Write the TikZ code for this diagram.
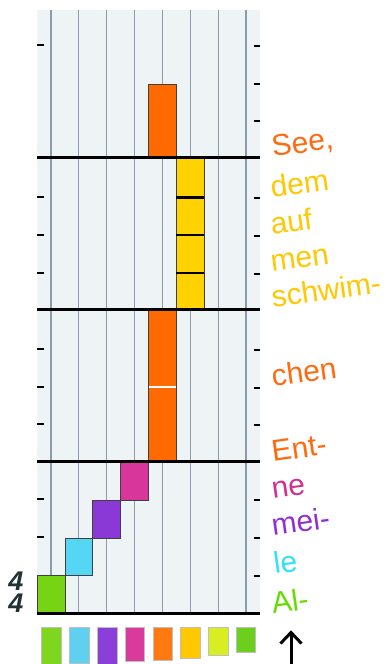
\documentclass[tikz,border=0pt]{standalone}
\usepackage{fontspec}
\setmainfont{Liberation Sans}
\definecolor{panel}{HTML}{EEF3F5}
\definecolor{gridc}{HTML}{8D9CA8}
\definecolor{cgreen}{HTML}{77D414}
\definecolor{ccyan}{HTML}{55D6F5}
\definecolor{cpurple}{HTML}{8A38D6}
\definecolor{cmagenta}{HTML}{D8369A}
\definecolor{corange}{HTML}{FF6A00}
\definecolor{cyellow}{HTML}{FFD200}
\definecolor{torange}{HTML}{FF6A10}
\definecolor{tyellow}{HTML}{FFC800}
\definecolor{tmagenta}{HTML}{D03090}
\definecolor{tpurple}{HTML}{9030D0}
\definecolor{tcyan}{HTML}{30E0FF}
\definecolor{tgreen}{HTML}{66DD00}
\definecolor{sigc}{HTML}{223333}
\definecolor{sw1}{HTML}{7FD61E}
\definecolor{sw2}{HTML}{5FD0F0}
\definecolor{sw3}{HTML}{8A3FD8}
\definecolor{sw4}{HTML}{D93B9C}
\definecolor{sw5}{HTML}{FF7A10}
\definecolor{sw6}{HTML}{FFC800}
\definecolor{sw7}{HTML}{D8EE22}
\definecolor{sw8}{HTML}{6CCF1E}
\begin{document}
\begin{tikzpicture}[x=1pt,y=-1pt,
  lyr/.style={anchor=base west, rotate=8, inner sep=0pt, font=\fontsize{30}{30}\selectfont},
  notebox/.style={draw=black!75, line width=0.6pt},
  tickmark/.style={line width=2pt},
  barline/.style={line width=3pt},
  gridline/.style={draw=gridc, line width=1.3pt},
  swatch/.style={draw=black!25, line width=0.4pt},
  sig/.style={inner sep=0pt, text=sigc, font=\bfseries\itshape\fontsize{27}{27}\selectfont}]
\useasboundingbox (0,0) rectangle (388,664);
% panel
\fill[panel] (37,10) rectangle (260,613.5);
\foreach \i in {0,...,7} \draw[gridline] (50.94+27.875*\i,10) -- (50.94+27.875*\i,613.5);
% ticks
\foreach \y in {45,197,235,273,349,387,424,499,537} \draw[tickmark] (37,\y) -- (44,\y);
\foreach \y in {46,84,121,198,236,274,350,388,425,500,538,576} \draw[tickmark] (253.5,\y) -- (260,\y);
% notes
\filldraw[notebox, fill=corange] (148.5,84) rectangle (176.4,157.5);
\filldraw[notebox, fill=cyellow] (176.4,157.5) rectangle (204.25,309.5);
\foreach \y in {197.5,235,273} \draw[line width=2.5pt] (176.4,\y) -- (204.25,\y);
\filldraw[notebox, fill=corange] (148.5,309.5) rectangle (176.4,461.5);
\draw[white, line width=2pt] (148.8,387) -- (176.1,387);
\filldraw[notebox, fill=cmagenta] (120.6,461.5) rectangle (148.5,500);
\filldraw[notebox, fill=cpurple] (92.75,500) rectangle (120.6,538);
\filldraw[notebox, fill=ccyan] (64.9,538) rectangle (92.75,575.7);
\filldraw[notebox, fill=cgreen] (37,575.7) rectangle (64.9,613.5);
% measure lines
\foreach \y in {157.5,309.5,461.5,613.5} \draw[barline] (37,\y) -- (260,\y);
% time signature
\node[sig] (sigTop) at (16,581.5) {4};
\node[sig] (sigBot) at (16,603.5) {4};
% lyrics
\node[lyr, text=torange] (tSee) at (273,157) {See,};
\node[lyr, text=tyellow] (tDem) at (272,198) {dem};
\node[lyr, text=tyellow] (tAuf) at (272,235) {auf};
\node[lyr, text=tyellow] (tMen) at (272,272) {men};
\node[lyr, text=tyellow] (tSchwim) at (273,308) {schwim-};
\node[lyr, text=torange] (tChen) at (273,387) {chen};
\node[lyr, text=torange] (tEnt) at (273,462) {Ent-};
\node[lyr, text=tmagenta] (tNe) at (273,499) {ne};
\node[lyr, text=tpurple] (tMei) at (273,536) {mei-};
\node[lyr, text=tcyan] (tLe) at (275,574) {le};
\node[lyr, text=tgreen] (tAl) at (273,614) {Al-};
% swatches
\filldraw[swatch, fill=sw1] (41.5,627) rectangle (61,664);
\filldraw[swatch, fill=sw2] (69.5,627) rectangle (89,663);
\filldraw[swatch, fill=sw3] (97.3,627) rectangle (117,664);
\filldraw[swatch, fill=sw4] (125,627) rectangle (144.5,661);
\filldraw[swatch, fill=sw5] (153,627) rectangle (172.5,660);
\filldraw[swatch, fill=sw6] (180.5,627) rectangle (200,658);
\filldraw[swatch, fill=sw7] (208.5,627) rectangle (228,655);
\filldraw[swatch, fill=sw8] (236,627) rectangle (255,652);
% arrow
\coordinate (arrBot) at (291,664);
\coordinate (arrTop) at (291,632.5);
\draw[line width=3pt] (arrBot) -- (arrTop);
\draw[line width=3pt, line join=miter] (280.5,643.5) -- (arrTop) -- (301.5,643.5);
\end{tikzpicture}
\end{document}
